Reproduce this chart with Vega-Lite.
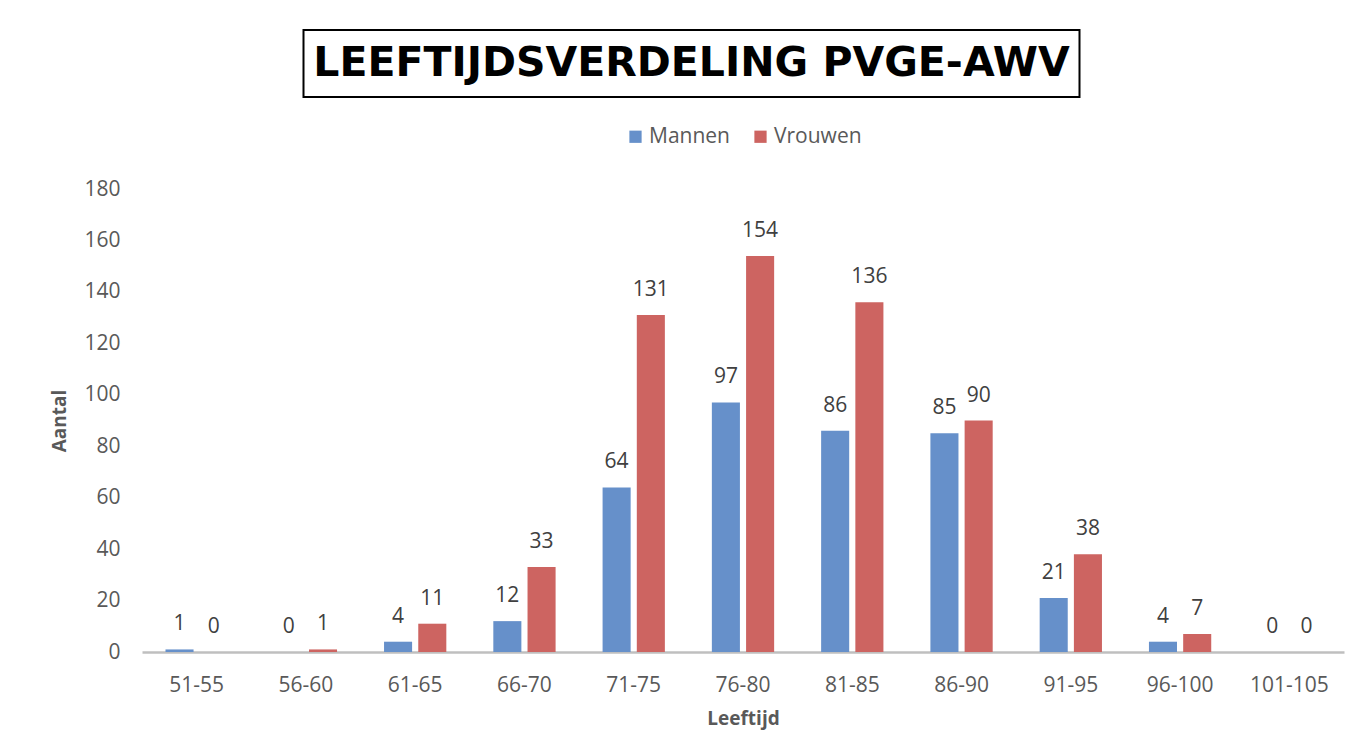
{
  "$schema": "https://vega.github.io/schema/vega-lite/v6.json",
  "background": "white",
  "padding": {"top": 29, "left": 50, "right": 10, "bottom": 5},
  "spacing": 28,
  "center": true,
  "resolve": {"legend": {"color": "independent"}},
  "config": {
    "font": "Open Sans",
    "view": {"stroke": null},
    "legend": {"layout": {"top": {"anchor": "middle"}}}
  },
  "vconcat": [
    {
      "spacing": 0,
      "hconcat": [
        {
          "width": 776,
          "height": 67,
          "view": {"stroke": "black", "strokeWidth": 2, "fill": "white"},
          "data": {"values": [{"t": "LEEFTIJDSVERDELING PVGE-AWV"}]},
          "mark": {"type": "text", "font": "DejaVu Sans", "fontWeight": "bold", "fontSize": 41, "color": "black", "align": "center", "baseline": "middle"},
          "encoding": {"text": {"field": "t"}}
        },
        {
          "width": 102,
          "height": 67,
          "data": {"values": [{"t": ""}]},
          "mark": {"type": "text"},
          "encoding": {"text": {"field": "t"}}
        }
      ]
    },
    {
      "width": 1202,
      "height": 463,
      "data": {
        "values": [
          {"Leeftijd": "51-55", "Geslacht": "Mannen", "Aantal": 1},
          {"Leeftijd": "51-55", "Geslacht": "Vrouwen", "Aantal": 0},
          {"Leeftijd": "56-60", "Geslacht": "Mannen", "Aantal": 0},
          {"Leeftijd": "56-60", "Geslacht": "Vrouwen", "Aantal": 1},
          {"Leeftijd": "61-65", "Geslacht": "Mannen", "Aantal": 4},
          {"Leeftijd": "61-65", "Geslacht": "Vrouwen", "Aantal": 11},
          {"Leeftijd": "66-70", "Geslacht": "Mannen", "Aantal": 12},
          {"Leeftijd": "66-70", "Geslacht": "Vrouwen", "Aantal": 33},
          {"Leeftijd": "71-75", "Geslacht": "Mannen", "Aantal": 64},
          {"Leeftijd": "71-75", "Geslacht": "Vrouwen", "Aantal": 131},
          {"Leeftijd": "76-80", "Geslacht": "Mannen", "Aantal": 97},
          {"Leeftijd": "76-80", "Geslacht": "Vrouwen", "Aantal": 154},
          {"Leeftijd": "81-85", "Geslacht": "Mannen", "Aantal": 86},
          {"Leeftijd": "81-85", "Geslacht": "Vrouwen", "Aantal": 136},
          {"Leeftijd": "86-90", "Geslacht": "Mannen", "Aantal": 85},
          {"Leeftijd": "86-90", "Geslacht": "Vrouwen", "Aantal": 90},
          {"Leeftijd": "91-95", "Geslacht": "Mannen", "Aantal": 21},
          {"Leeftijd": "91-95", "Geslacht": "Vrouwen", "Aantal": 38},
          {"Leeftijd": "96-100", "Geslacht": "Mannen", "Aantal": 4},
          {"Leeftijd": "96-100", "Geslacht": "Vrouwen", "Aantal": 7},
          {"Leeftijd": "101-105", "Geslacht": "Mannen", "Aantal": 0},
          {"Leeftijd": "101-105", "Geslacht": "Vrouwen", "Aantal": 0}
        ]
      },
      "encoding": {
        "x": {
          "field": "Leeftijd",
          "type": "nominal",
          "sort": null,
          "scale": {"paddingInner": 0.43, "paddingOuter": 0.215},
          "axis": {
            "title": "Leeftijd",
            "titleFont": "Open Sans",
            "titleFontWeight": "bold",
            "titleFontSize": 19,
            "titleColor": "#595959",
            "titlePadding": 14,
            "labelAngle": 0,
            "labelFont": "Open Sans",
            "labelFontSize": 21,
            "labelColor": "#595959",
            "labelPadding": 22,
            "ticks": false,
            "domainColor": "#bfbfbf",
            "domainWidth": 2.5
          }
        },
        "xOffset": {
          "field": "Geslacht",
          "type": "nominal",
          "scale": {"paddingInner": 0.18}
        },
        "y": {
          "field": "Aantal",
          "type": "quantitative",
          "scale": {"domain": [0, 180]},
          "axis": {
            "title": "Aantal",
            "titleFont": "Open Sans",
            "titleFontWeight": "bold",
            "titleFontSize": 19,
            "titleColor": "#595959",
            "titlePadding": 14,
            "values": [0, 20, 40, 60, 80, 100, 120, 140, 160, 180],
            "labelFont": "Open Sans",
            "labelFontSize": 21,
            "labelColor": "#595959",
            "labelPadding": 22,
            "grid": false,
            "domain": false,
            "ticks": false
          }
        },
        "color": {
          "field": "Geslacht",
          "type": "nominal",
          "scale": {"domain": ["Mannen", "Vrouwen"], "range": ["#6690ca", "#cd6461"]},
          "legend": {
            "orient": "top",
            "direction": "horizontal",
            "title": null,
            "symbolType": "square",
            "symbolSize": 150,
            "symbolStrokeWidth": 0,
            "labelFont": "Open Sans",
            "labelFontSize": 21,
            "labelColor": "#595959",
            "columnPadding": 20,
            "labelOffset": 3,
            "offset": 42
          }
        }
      },
      "layer": [
        {"mark": {"type": "bar"}},
        {
          "mark": {"type": "text", "baseline": "bottom", "dy": -15, "font": "Open Sans", "fontSize": 21, "color": "#404040"},
          "encoding": {"text": {"field": "Aantal", "type": "quantitative"}, "color": {"value": "#404040"}}
        }
      ]
    }
  ]
}
